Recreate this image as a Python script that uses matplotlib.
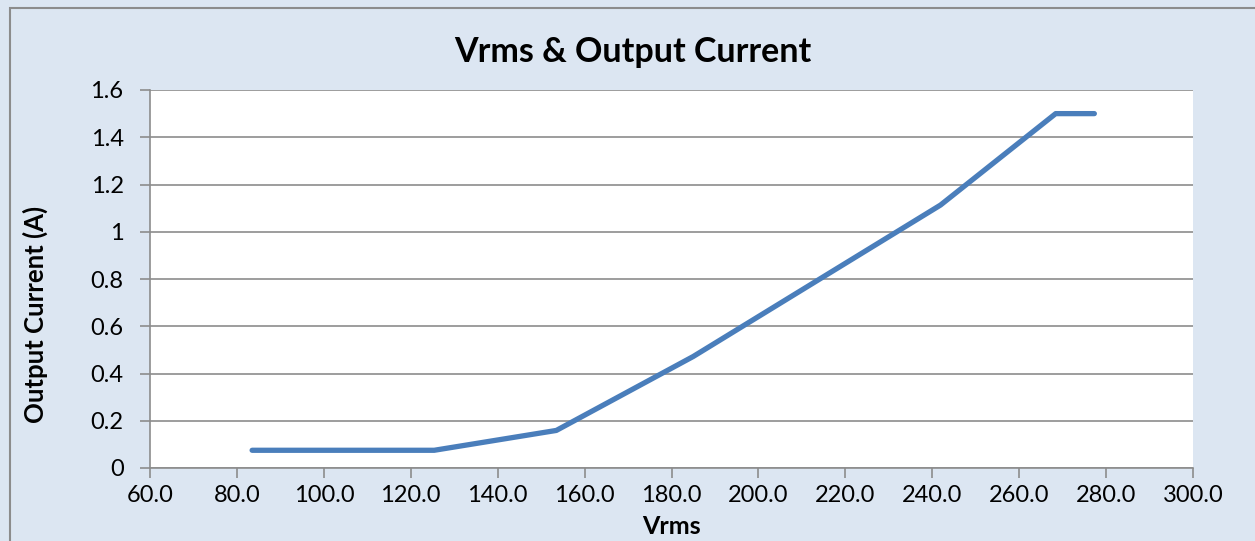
import matplotlib
matplotlib.use("Agg")
import matplotlib.pyplot as plt
from matplotlib.patches import Rectangle
from matplotlib.ticker import FuncFormatter

# readings taken off the curve
vrms = [83.5, 125.4, 153.5, 185.0, 241.9, 268.4, 277.3]
current = [0.075, 0.075, 0.159, 0.472, 1.113, 1.5, 1.5]

x_ticks = [60, 80, 100, 120, 140, 160, 180, 200, 220, 240, 260, 280, 300]
y_ticks = [0, 0.2, 0.4, 0.6, 0.8, 1.0, 1.2, 1.4, 1.6]

plt.rcParams['font.family'] = ['Lato', 'DejaVu Sans']

fig = plt.figure(figsize=(12.55, 5.41), dpi=100)
fig.patch.set_facecolor('#DCE6F2')
# chart frame
fig.patches.append(Rectangle((10 / 1255, -0.1), 1.2, 1 - 8 / 541 + 0.1,
                             transform=fig.transFigure, fill=False,
                             edgecolor='#8C8C8C', linewidth=1.5))

ax = fig.add_axes([150 / 1255, 1 - 468 / 541, 1043 / 1255, 378 / 541])
ax.set_facecolor('white')
ax.plot(vrms, current, color='#4A7EBB', linewidth=3.8,
        solid_capstyle='round', solid_joinstyle='round', zorder=3)

ax.set_xlim(60, 300)
ax.set_ylim(0, 1.6)
ax.set_xticks(x_ticks)
ax.set_yticks(y_ticks)
ax.xaxis.set_major_formatter(FuncFormatter(lambda v, p: "%.1f" % v))
ax.yaxis.set_major_formatter(FuncFormatter(lambda v, p: "%g" % v))
ax.grid(axis='y', color='#8C8C8C', linewidth=1.2)
ax.set_axisbelow(True)

for s in ['top', 'right']:
    ax.spines[s].set_visible(False)
for s in ['left', 'bottom']:
    ax.spines[s].set_color('#8C8C8C')
    ax.spines[s].set_linewidth(1.2)
ax.tick_params(colors='#8C8C8C', labelcolor='black', labelsize=17,
               length=7, width=1.2)
ax.tick_params(axis='x', pad=5)
ax.tick_params(axis='y', pad=12)

ax.text(0.4626, 1.1005, "Vrms & Output Current", transform=ax.transAxes,
        ha='center', va='center', fontsize=24.5, fontweight='bold')
ax.set_xlabel("Vrms", fontsize=18, fontweight='bold', va='center')
ax.xaxis.set_label_coords(0.5, -0.156)
ax.set_ylabel("Output Current (A)", fontsize=18.5, fontweight='bold', va='center')
ax.yaxis.set_label_coords(-0.110, 0.405)

fig.savefig("out.png", dpi=100, facecolor=fig.get_facecolor())
